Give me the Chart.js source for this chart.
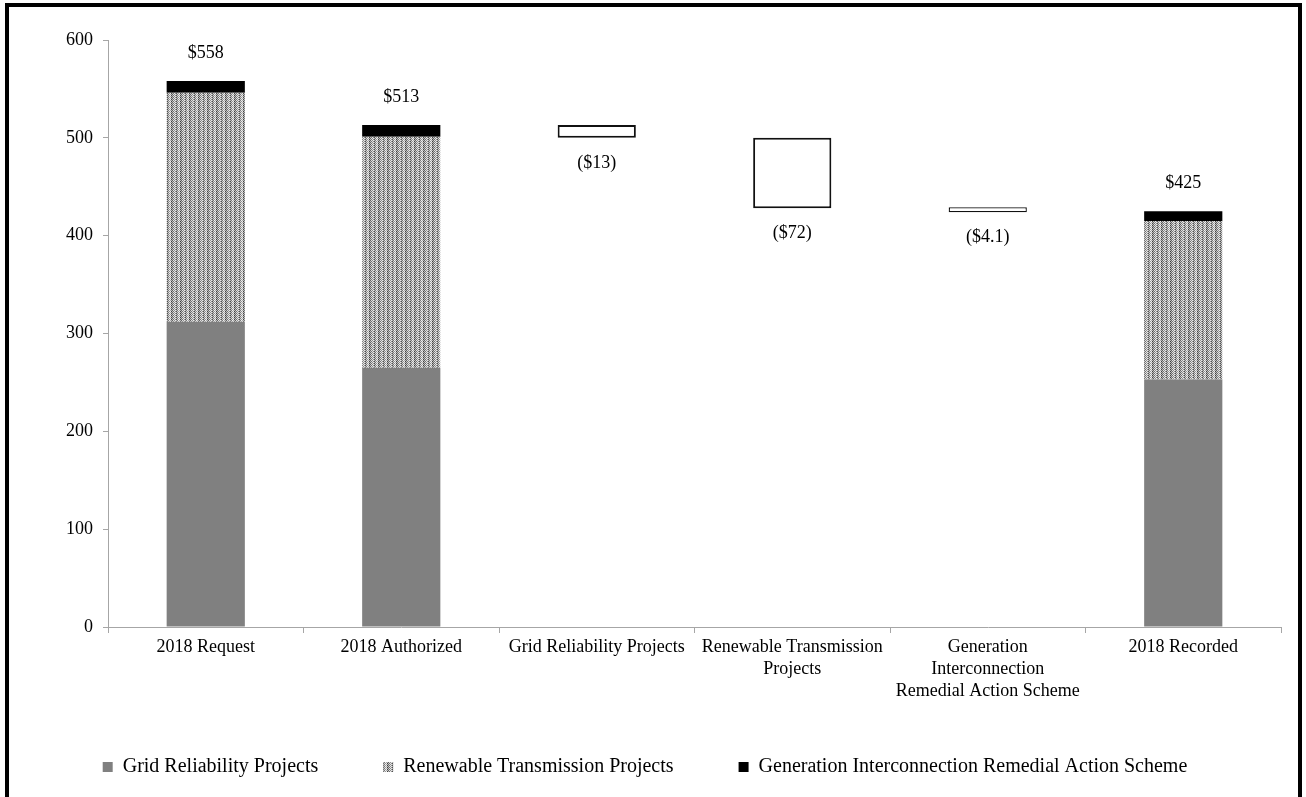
<!DOCTYPE html>
<html>
<head>
<meta charset="utf-8">
<script src="https://cdn.jsdelivr.net/npm/chart.js@4.4.0/dist/chart.umd.min.js"></script>
<style>
  html, body { margin: 0; padding: 0; background: #fff; overflow: hidden; }
  #frame { position: absolute; left: 5px; top: 3px; width: 1297px; height: 830px; box-sizing: border-box; border: 4px solid #000; }
  #wrap { position: absolute; left: 0; top: 0; width: 1289px; height: 790px; }
</style>
</head>
<body>
<div id="frame"><div id="wrap"><canvas id="chart"></canvas></div></div>
<script>
const categories = [
  "2018 Request",
  "2018 Authorized",
  "Grid Reliability Projects",
  ["Renewable Transmission", "Projects"],
  ["Generation", "Interconnection", "Remedial Action Scheme"],
  "2018 Recorded",
];

// stacked pieces, $ millions
const gridReliability = [312, 265, null, null, null, 253];
const renewableTransmission = [234, 236, null, null, null, 162];
const generationInterconnection = [12, 12, null, null, null, 10];
// waterfall steps [from, to]
const changeRanges = [null, null, [500, 513], [428, 500], [424, 429], null];

const totalLabels = ["$558", "$513", null, null, null, "$425"];
const changeLabels = [null, null, "($13)", "($72)", "($4.1)", null];

const yTicks = [0, 100, 200, 300, 400, 500, 600];

// dotted fill for the renewable pieces
function makeDots() {
  const c = document.createElement("canvas");
  c.width = 9;
  c.height = 4;
  const ctx = c.getContext("2d");
  const img = ctx.createImageData(9, 4);
  const dark = [0x40, 0xc0, 0x70, 0xe8, 0x90, 0x50, 0xd0, 0x98, 0xf0];
  const light = [0xb8, 0x60, 0xe0, 0x90, 0xe8, 0xb0, 0x78, 0xf0, 0xa8];
  for (let y = 0; y < 4; y++) {
    for (let x = 0; x < 9; x++) {
      const v = y % 2 === 0 ? dark[x] : light[x];
      const i = (y * 9 + x) * 4;
      img.data[i] = v; img.data[i + 1] = v; img.data[i + 2] = v; img.data[i + 3] = 255;
    }
  }
  ctx.putImageData(img, 0, 0);
  return ctx.createPattern(c, "repeat");
}
const dots = makeDots();

Chart.defaults.font.family = "'Liberation Serif', 'Times New Roman', serif";
Chart.defaults.font.size = 18;
Chart.defaults.color = "#000";

// labels above totals and under the steps
const barLabels = {
  id: "barLabels",
  afterDatasetsDraw(chart) {
    const ctx = chart.ctx;
    ctx.save();
    ctx.font = "18px 'Liberation Serif', serif";
    ctx.fillStyle = "#000";
    ctx.textAlign = "center";
    ctx.textBaseline = "middle";
    const topMeta = chart.getDatasetMeta(2);
    totalLabels.forEach((t, i) => {
      if (!t) return;
      const bar = topMeta.data[i];
      ctx.fillText(t, bar.x, bar.y - 28);
    });
    const stepMeta = chart.getDatasetMeta(3);
    changeLabels.forEach((t, i) => {
      if (!t) return;
      const bar = stepMeta.data[i];
      ctx.fillText(t, bar.x, Math.max(bar.y, bar.base) + 25);
    });
    ctx.restore();
  },
};

const axisGray = "#a6a6a6";
// extra room after the first two legend entries
const legendGap = "\u00a0".repeat(11);

new Chart(document.getElementById("chart"), {
  type: "bar",
  plugins: [barLabels],
  data: {
    labels: categories,
    datasets: [
      { label: "Grid Reliability Projects", data: gridReliability, backgroundColor: "#808080", borderWidth: 0 },
      { label: "Renewable Transmission Projects", data: renewableTransmission, backgroundColor: dots, borderWidth: 0 },
      { label: "Generation Interconnection Remedial Action Scheme", data: generationInterconnection, backgroundColor: "#000", borderWidth: 0 },
      {
        label: "change",
        data: changeRanges,
        backgroundColor: "#fff",
        borderColor: "#111",
        borderWidth: [0, 0, 2, 2, 1.3, 0],
        borderSkipped: false,
      },
    ],
  },
  options: {
    responsive: true,
    maintainAspectRatio: false,
    animation: false,
    barPercentage: 0.5,
    categoryPercentage: 0.8,
    layout: { padding: { left: 0, right: 17, top: 33, bottom: 10 } },
    scales: {
      x: {
        stacked: true,
        border: { color: axisGray },
        grid: { drawOnChartArea: false, color: axisGray, tickLength: 6 },
        ticks: { autoSkip: false, maxRotation: 0, padding: 3, font: { size: 18, lineHeight: 1.22 } },
        afterFit: (s) => { s.height = 120; },
      },
      y: {
        stacked: true,
        min: 0,
        max: 600,
        border: { color: axisGray },
        grid: { drawOnChartArea: false, color: axisGray, tickLength: 5 },
        afterBuildTicks: (s) => { s.ticks = yTicks.map((v) => ({ value: v })); },
        ticks: { padding: 10, font: { size: 18 } },
        afterFit: (s) => { s.width = 99; },
      },
    },
    plugins: {
      tooltip: { enabled: false },
      legend: {
        position: "bottom",
        labels: {
          boxWidth: 10,
          boxHeight: 10,
          padding: 10,
          font: { size: 20 },
          filter: (item) => item.datasetIndex < 3,
          generateLabels: (chart) => {
            const items = Chart.defaults.plugins.legend.labels.generateLabels(chart);
            return items.map((it) => {
              if (it.datasetIndex < 2) it.text = it.text + legendGap;
              return it;
            });
          },
        },
      },
    },
  },
});
</script>
</body>
</html>
